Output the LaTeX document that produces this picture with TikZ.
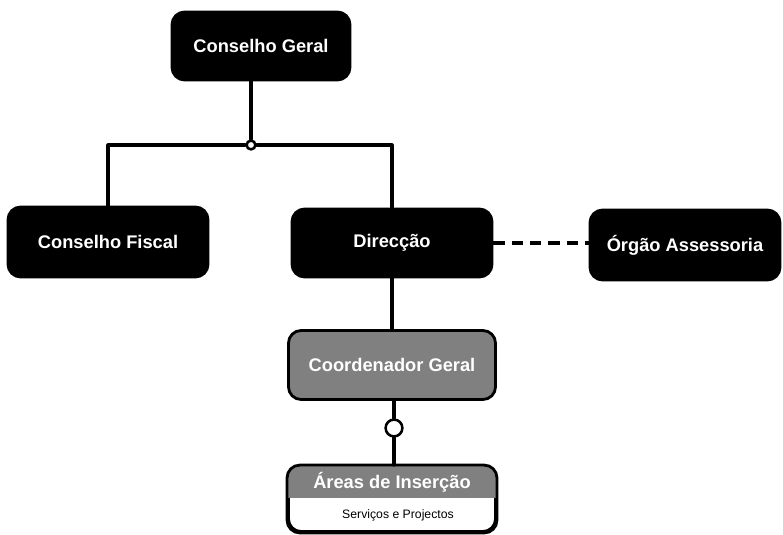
\documentclass[tikz,border=0pt]{standalone}
\usepackage{fontspec}
\setmainfont{Liberation Sans}
\usetikzlibrary{calc}

\tikzset{
  orgbox/.style={draw=black,line width=2pt,fill=black,rounded corners=9pt,text=white,
    font=\fontsize{13}{15}\selectfont\bfseries,inner sep=0pt},
  graybox/.style={orgbox,fill=black!50},
  link/.style={line width=2.2pt},
  joint/.style={circle,draw=black,fill=white,line width=1.8pt,inner sep=0pt}
}

\begin{document}
\begin{tikzpicture}[x=0.025cm,y=-0.025cm,line cap=round,line join=round]
\useasboundingbox (0,0) rectangle (783,534);
% boxes
\node[orgbox,minimum width=4.45cm,minimum height=1.7cm] (geral) at (261,46) {Conselho Geral};
\node[orgbox,minimum width=5cm,minimum height=1.75cm] (fiscal) at (108,242) {Conselho Fiscal};
\node[orgbox,minimum width=5cm,minimum height=1.7cm] (direccao) at (392,243) {Direcção};
\node[orgbox,minimum width=4.75cm,minimum height=1.75cm] (orgao) at (685,245) {Órgão Assessoria};
\node[graybox,minimum width=5.175cm,minimum height=1.725cm] (coord) at (392,365) {Coordenador Geral};
\node[orgbox,fill=white,minimum width=5.175cm,minimum height=1.625cm] (areas) at (392,499) {};
\begin{scope}
\clip[rounded corners=9pt] (areas.north west) rectangle (areas.south east);
\fill[black!50] (areas.north west) rectangle ($(areas.north east)+(0,33)$);
\end{scope}
\draw[line width=2pt,rounded corners=9pt] (areas.north west) rectangle (areas.south east);
\node[text=white,font=\fontsize{13}{15}\selectfont\bfseries] (areastitle) at ($(areas.north)+(0,17)$) {Áreas de Inserção};
\node[font=\fontsize{8.7}{10}\selectfont] (areastext) at ($(areas.north)+(6,50)$) {Serviços e Projectos};
% joints
\node[joint,minimum size=0.22cm] (top) at (251,145) {};
\node[joint,minimum size=0.42cm] (low) at (394,428) {};
% connectors
\draw[link] (geral.south -| top) -- (top.north);
\draw[link] (top.west) -| (fiscal.north);
\draw[link] (top.east) -| (direccao.north);
\draw[link] (direccao.south) -- (coord.north);
\draw[link] (coord.south -| low) -- (low.north);
\draw[link] (low.south) -- (areas.north -| low);
\draw[link,line cap=butt,dash pattern=on 8pt off 5pt] (direccao.east) -- (orgao.west |- direccao.east);
\end{tikzpicture}
\end{document}
